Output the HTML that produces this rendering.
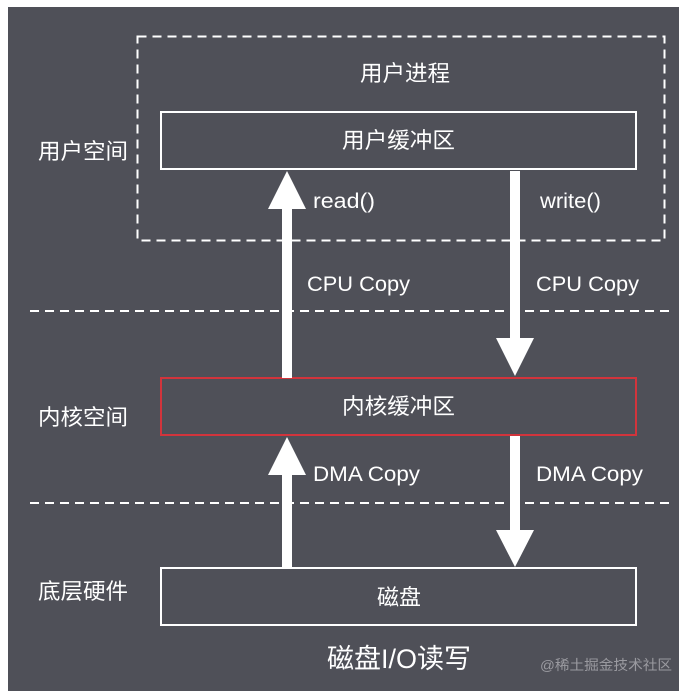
<!DOCTYPE html>
<html><head><meta charset="utf-8"><style>
html,body{margin:0;padding:0;background:#fff;}
svg{display:block;}
text{font-family:"Liberation Sans","Noto Sans CJK SC",sans-serif;fill:#fff;}
</style></head><body>
<svg width="689" height="695" viewBox="0 0 689 695">
<rect x="8" y="7" width="671" height="684" fill="#4f5058"/>
<rect x="137.5" y="36.5" width="527" height="204" fill="none" stroke="#fff" stroke-width="2" stroke-dasharray="9,6"/>
<line x1="30" y1="311" x2="672" y2="311" stroke="#fff" stroke-width="2" stroke-dasharray="9,6"/>
<line x1="30" y1="503" x2="672" y2="503" stroke="#fff" stroke-width="2" stroke-dasharray="9,6"/>
<rect x="161" y="112" width="475" height="57" fill="#4f5058" stroke="#fff" stroke-width="2"/>
<rect x="161" y="378" width="475" height="57" fill="#4f5058" stroke="#d2343c" stroke-width="2"/>
<rect x="161" y="568" width="475" height="57" fill="#4f5058" stroke="#fff" stroke-width="2"/>
<rect x="282" y="205" width="10" height="173" fill="#fff"/>
<polygon points="287,171 306,209 268,209" fill="#fff"/>
<rect x="510" y="171" width="10" height="170" fill="#fff"/>
<polygon points="515,376 534,338 496,338" fill="#fff"/>
<rect x="282" y="472" width="10" height="96" fill="#fff"/>
<polygon points="287,437 306,475 268,475" fill="#fff"/>
<rect x="510" y="436" width="10" height="98" fill="#fff"/>
<polygon points="515,567 534,530 496,530" fill="#fff"/>
<text x="360" y="81" font-size="22" textLength="90" lengthAdjust="spacingAndGlyphs">用户进程</text>
<text x="342" y="148" font-size="22" textLength="113" lengthAdjust="spacingAndGlyphs">用户缓冲区</text>
<text x="342" y="414" font-size="22" textLength="113" lengthAdjust="spacingAndGlyphs">内核缓冲区</text>
<text x="377" y="605" font-size="22" textLength="44" lengthAdjust="spacingAndGlyphs">磁盘</text>
<text x="38" y="159" font-size="22" textLength="90" lengthAdjust="spacingAndGlyphs">用户空间</text>
<text x="38" y="425" font-size="22" textLength="90" lengthAdjust="spacingAndGlyphs">内核空间</text>
<text x="38" y="599" font-size="22" textLength="90" lengthAdjust="spacingAndGlyphs">底层硬件</text>
<text x="313" y="208" font-size="21" textLength="62" lengthAdjust="spacingAndGlyphs">read()</text>
<text x="540" y="208" font-size="21" textLength="61" lengthAdjust="spacingAndGlyphs">write()</text>
<text x="307" y="291" font-size="21" textLength="103" lengthAdjust="spacingAndGlyphs">CPU Copy</text>
<text x="536" y="291" font-size="21" textLength="103" lengthAdjust="spacingAndGlyphs">CPU Copy</text>
<text x="313" y="481" font-size="21" textLength="107" lengthAdjust="spacingAndGlyphs">DMA Copy</text>
<text x="536" y="481" font-size="21" textLength="107" lengthAdjust="spacingAndGlyphs">DMA Copy</text>
<text x="327" y="668" font-size="27" textLength="144" lengthAdjust="spacingAndGlyphs">磁盘I/O读写</text>
<text x="540" y="670" font-size="14" textLength="132" lengthAdjust="spacingAndGlyphs" style="fill:#9a9aa0">@稀土掘金技术社区</text>
</svg>
</body></html>
